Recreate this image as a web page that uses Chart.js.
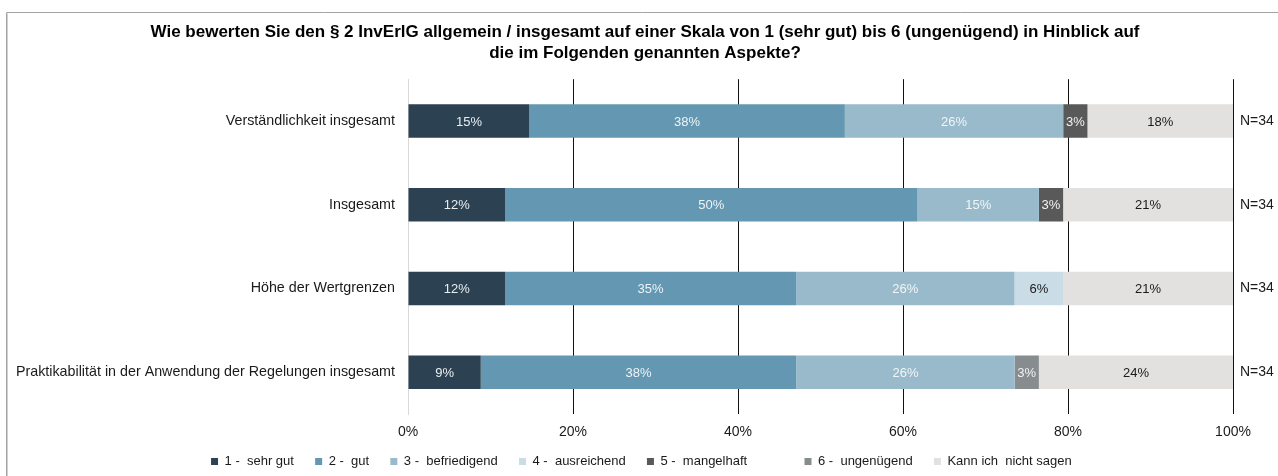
<!DOCTYPE html>
<html>
<head>
<meta charset="utf-8">
<script src="https://cdn.jsdelivr.net/npm/chart.js@4.4.1/dist/chart.umd.min.js"></script>
<style>
  html, body { margin: 0; padding: 0; background: #fff; }
  #wrap { width: 1278px; height: 476px; }
</style>
</head>
<body>
<div id="wrap"><canvas id="chart" width="1278" height="476"></canvas></div>
<script>
// Categories (rows) and the answer shares in percent, N=34 per row
const categories = [
  'Verständlichkeit insgesamt',
  'Insgesamt',
  'Höhe der Wertgrenzen',
  'Praktikabilität in der Anwendung der Regelungen insgesamt'
];
const nLabels = ['N=34', 'N=34', 'N=34', 'N=34'];

const sehrGut      = [14.71, 11.76, 11.76, 8.82];
const gut          = [38.24, 50.00, 35.29, 38.24];
const befriedigend = [26.47, 14.71, 26.47, 26.47];
const ausreichend  = [0, 0, 5.88, 0];
const mangelhaft   = [2.94, 2.94, 0, 0];
const ungenuegend  = [0, 0, 0, 2.94];
const kannNicht    = [17.64, 20.59, 20.59, 23.53];

const titleLines = [
  'Wie bewerten Sie den § 2 InvErlG allgemein / insgesamt auf einer Skala von 1 (sehr gut) bis 6 (ungenügend) in Hinblick auf',
  'die im Folgenden genannten Aspekte?'
];

const FONT = '"Liberation Sans", Arial, sans-serif';

// Segment definitions: legend label, values, fill, text colour inside the bar
const series = [
  { label: '1 -  sehr gut', data: sehrGut, color: '#2C4151', text: '#E9EEF1' },
  { label: '2 -  gut', data: gut, color: '#6497B1', text: '#EEF3F6' },
  { label: '3 -  befriedigend', data: befriedigend, color: '#98BACB', text: '#F2F5F7' },
  { label: '4 -  ausreichend', data: ausreichend, color: '#CADDE6', text: '#1A1A1A' },
  { label: '5 -  mangelhaft', data: mangelhaft, color: '#595959', text: '#F2F2F2' },
  { label: '6 -  ungenügend', data: ungenuegend, color: '#878C8F', text: '#F2F2F2' },
  { label: 'Kann ich  nicht sagen', data: kannNicht, color: '#E3E1DF', text: '#1A1A1A' }
];

// White background plus the grey frame of the original figure
const framePlugin = {
  id: 'frame',
  beforeDraw(chart) {
    const ctx = chart.ctx;
    ctx.save();
    ctx.fillStyle = '#fff';
    ctx.fillRect(0, 0, chart.width, chart.height);
    ctx.strokeStyle = '#A3A3A3';
    ctx.lineWidth = 1;
    ctx.beginPath();
    ctx.moveTo(6.5, chart.height + 5);
    ctx.lineTo(6.5, 12.5);
    ctx.lineTo(chart.width + 5, 12.5);
    ctx.stroke();
    ctx.strokeStyle = '#D0D0D0';
    ctx.beginPath();
    ctx.moveTo(7.5, chart.height + 5);
    ctx.lineTo(7.5, 13.5);
    ctx.stroke();
    ctx.restore();
  }
};

// Percent labels centred in every non-empty segment
const segmentLabels = {
  id: 'segmentLabels',
  afterDatasetsDraw(chart) {
    const ctx = chart.ctx;
    ctx.save();
    ctx.font = '13px ' + FONT;
    ctx.textAlign = 'center';
    ctx.textBaseline = 'middle';
    chart.data.datasets.forEach(function (ds, i) {
      const meta = chart.getDatasetMeta(i);
      meta.data.forEach(function (bar, j) {
        const v = ds.data[j];
        if (!v) return;
        const p = bar.getProps(['x', 'base', 'y'], true);
        ctx.fillStyle = series[i].text;
        ctx.fillText(Math.round(v) + '%', (p.x + p.base) / 2, p.y + 1);
      });
    });
    ctx.restore();
  }
};

new Chart(document.getElementById('chart'), {
  type: 'bar',
  data: {
    labels: categories,
    datasets: series.map(function (s) {
      return {
        label: s.label,
        data: s.data,
        backgroundColor: s.color,
        borderWidth: 0,
        barPercentage: 0.4,
        categoryPercentage: 1
      };
    })
  },
  options: {
    indexAxis: 'y',
    responsive: false,
    animation: false,
    devicePixelRatio: 1,
    layout: {
      padding: { left: 12, right: 0, top: 12, bottom: -2 }
    },
    plugins: {
      title: {
        display: true,
        text: titleLines,
        color: '#000',
        font: { family: FONT, size: 17, weight: 'bold', lineHeight: 1.24 },
        padding: { top: 10, bottom: 15 }
      },
      legend: {
        position: 'bottom',
        labels: {
          boxWidth: 7,
          boxHeight: 7,
          padding: 14,
          color: '#1A1A1A',
          font: { family: FONT, size: 13 },
          // extra room after the entries, as spaced in the original legend
          generateLabels: function (chart) {
            return Chart.defaults.plugins.legend.labels.generateLabels(chart).map(function (item, i) {
              item.text = item.text + (i === 4 ? '            ' : '  ');
              return item;
            });
          }
        }
      },
      tooltip: { enabled: false }
    },
    scales: {
      x: {
        stacked: true,
        min: 0,
        max: 100,
        ticks: {
          stepSize: 20,
          padding: 10,
          color: '#1A1A1A',
          font: { family: FONT, size: 14 },
          callback: function (value) {
            return value + '%';
          }
        },
        grid: {
          drawTicks: false,
          color: function (ctx) {
            return ctx.index === 0 ? '#D9D9D9' : '#111';
          }
        },
        border: { display: false },
        afterFit: function (scale) {
          scale.height = 27;
        }
      },
      y: {
        stacked: true,
        ticks: {
          padding: 13,
          color: '#1A1A1A',
          font: { family: FONT, size: 14.3 }
        },
        grid: { display: false, drawTicks: false },
        border: { color: '#D9D9D9' },
        afterFit: function (scale) {
          scale.width = 396;
        }
      },
      y2: {
        type: 'category',
        position: 'right',
        labels: nLabels,
        offset: true,
        ticks: {
          padding: 7,
          color: '#1A1A1A',
          font: { family: FONT, size: 14 }
        },
        grid: { display: false, drawTicks: false },
        border: { display: false },
        afterFit: function (scale) {
          scale.width = 45;
        }
      }
    }
  },
  plugins: [framePlugin, segmentLabels]
});
</script>
</body>
</html>
